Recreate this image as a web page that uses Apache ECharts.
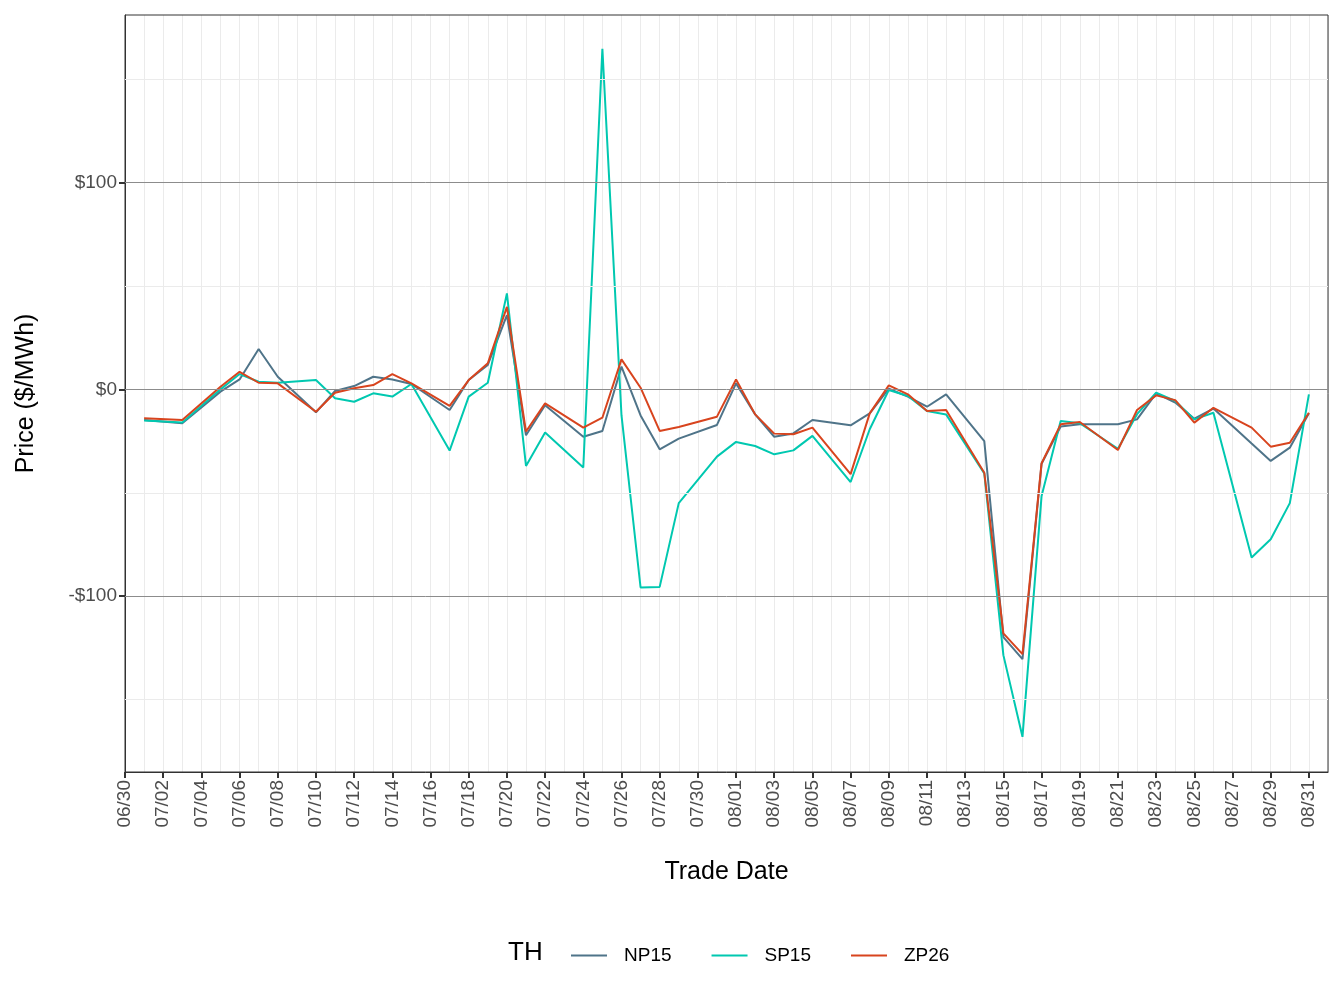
<!DOCTYPE html>
<html>
<head>
<meta charset="utf-8">
<script src="https://cdn.jsdelivr.net/npm/echarts@6/dist/echarts.min.js"></script>
<style>
  html, body { margin: 0; padding: 0; background: #fff; }
  #chart { width: 1344px; height: 1008px; }
</style>
</head>
<body>
<div id="chart"></div>
<script>
// day index counted from 06/30 (0 = 06/30, 1 = 07/01 ...)
var days = [1, 3, 5, 6, 7, 8, 10, 11, 12, 13, 14, 15, 17, 18, 19, 20, 21, 22, 24, 25, 26, 27, 28, 29, 31, 32, 33, 34, 35, 36, 38, 39, 40, 41, 42, 43, 45, 46, 47, 48, 49, 50, 52, 53, 54, 55, 56, 57, 59, 60, 61, 62];
var np15 = [-14.8, -16.4, -1.1, 4.8, 19.5, 6.1, -11.1, -0.8, 1.6, 6.1, 4.8, 2.6, -10, 4.5, 11.8, 35.9, -22.2, -7.7, -22.9, -20.1, 11, -12.6, -29, -23.8, -17.2, 2.9, -12.1, -22.9, -21.3, -14.8, -17.4, -11.6, 0.3, -3.5, -8.4, -2.4, -25, -119.8, -130.4, -36, -18, -16.9, -16.9, -14.5, -1.9, -6.4, -14.2, -9.3, -26.2, -34.6, -28.2, -11.5];
var sp15 = [-15.1, -16, 0, 7.4, 3.7, 3.2, 4.5, -4.3, -6, -1.9, -3.5, 2.6, -29.6, -3.5, 3.2, 46.4, -37, -20.9, -37.8, 164.7, -12.5, -95.8, -95.5, -55, -32.5, -25.4, -27.4, -31.4, -29.5, -22.5, -44.8, -19.3, -0.3, -3.2, -10.5, -12.1, -40.6, -128.5, -168, -51.5, -15.3, -16.4, -28.7, -12, -1.6, -5.6, -14.5, -11.3, -81.3, -72.5, -55, -2.4];
var zp26 = [-14, -14.8, 1.3, 8.5, 3.2, 2.9, -10.8, -1.6, 0.5, 2.1, 7.4, 2.9, -8, 4.5, 12.6, 39.9, -20.4, -6.8, -18.5, -13.7, 14.5, 0.8, -20.1, -18.2, -13.2, 4.8, -12.1, -21.4, -21.7, -18.5, -41, -11.6, 1.9, -2.4, -10.5, -10, -40.3, -118, -128, -35.7, -16.9, -15.8, -29.3, -10, -2.9, -5.2, -16.1, -8.9, -18.5, -27.7, -25.8, -11.3];
var yLabels = [-100, 0, 100];
var names = ['NP15', 'SP15', 'ZP26'];
var colors = ['#4f7489', '#00c8b0', '#d8441e'];

function dateLabel(d) {
    var dt = new Date(Date.UTC(2023, 5, 30 + d));
    var m = dt.getUTCMonth() + 1, day = dt.getUTCDate();
    return (m < 10 ? '0' : '') + m + '/' + (day < 10 ? '0' : '') + day;
}
function pairs(vals) {
    return days.map(function(d, i) { return [d, vals[i]]; });
}

var myChart = echarts.init(document.getElementById('chart'));
var gridLines = [-150, -100, -50, 0, 50, 100, 150].map(function(v) {
    var major = yLabels.indexOf(v) >= 0;
    return { yAxis: v, lineStyle: { color: major ? '#8c8c8c' : '#ebebeb', width: 1, type: 'solid' } };
});

var series = [{
    // 横向网格线
    type: 'line', data: [], silent: true, z: 1,
    markLine: { symbol: 'none', silent: true, label: { show: false }, data: gridLines }
}];
[np15, sp15, zp26].forEach(function(vals, i) {
    series.push({
        name: names[i], type: 'line', data: pairs(vals), showSymbol: false,
        lineStyle: { width: 2, color: colors[i] }, itemStyle: { color: colors[i] }, z: 3
    });
});

var option = {
    animation: false,
    textStyle: { fontFamily: 'Liberation Sans, Arial, sans-serif' },
    grid: { left: 125, right: 16, top: 15, bottom: 236, show: true, borderColor: '#333', borderWidth: 1, z: 5 },
    legend: {
        bottom: 38, left: 566, itemWidth: 36, itemHeight: 2, itemGap: 40,
        icon: 'rect', data: names,
        textStyle: { fontSize: 19, color: '#000', padding: [0, 0, 0, 12] }
    },
    graphic: [{ type: 'text', left: 508, top: 940, style: { text: 'TH', fontSize: 26, fill: '#000', fontFamily: 'Liberation Sans, Arial, sans-serif' } }],
    xAxis: {
        type: 'value', min: 0, max: 63, interval: 2,
        name: 'Trade Date', nameLocation: 'middle', nameGap: 88,
        nameTextStyle: { fontSize: 25, color: '#000' },
        axisLine: { show: true, onZero: false, lineStyle: { color: '#333' } },
        axisTick: { show: true, length: 6, lineStyle: { color: '#333', width: 2 } },
        axisLabel: { rotate: 90, fontSize: 19, color: '#4d4d4d', formatter: dateLabel, showMaxLabel: false },
        splitLine: { show: true, lineStyle: { color: '#ebebeb' } },
        minorTick: { show: false, splitNumber: 2 },
        minorSplitLine: { show: true, lineStyle: { color: '#ebebeb' } }
    },
    yAxis: {
        type: 'value', min: -185, max: 181,
        name: 'Price ($/MWh)', nameLocation: 'middle', nameGap: 86,
        nameTextStyle: { fontSize: 25, color: '#000' },
        axisLine: { show: true, onZero: false, lineStyle: { color: '#333' } },
        axisTick: { show: true, customValues: yLabels, length: 6, lineStyle: { color: '#333', width: 2 } },
        axisLabel: {
            customValues: yLabels, fontSize: 19, color: '#4d4d4d',
            formatter: function(v) { return (v < 0 ? '-$' : '$') + Math.abs(v); }
        },
        splitLine: { show: false }
    },
    series: series
};
myChart.setOption(option);
</script>
</body>
</html>
